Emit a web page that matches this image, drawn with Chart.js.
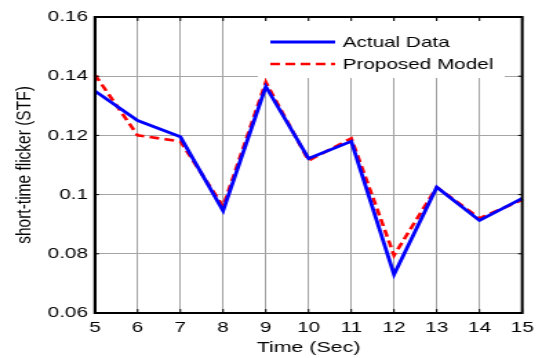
<!DOCTYPE html>
<html>
<head>
<meta charset="utf-8">
<script src="https://cdn.jsdelivr.net/npm/chart.js@4/dist/chart.umd.min.js"></script>
<style>
  html, body { margin: 0; padding: 0; background: #fff; overflow: hidden; }
  /* the figure is drawn narrow and stretched sideways to its final 542px width */
  #wrap { position: absolute; left: 0; top: 0; width: 393px; height: 358px;
          transform: scaleX(1.3791); transform-origin: 0 0; }
</style>
</head>
<body>
<div id="wrap"><canvas id="stfChart"></canvas></div>
<script>
const timeSec = [5, 6, 7, 8, 9, 10, 11, 12, 13, 14, 15];
const actualData = [0.135, 0.125, 0.1195, 0.0945, 0.1365, 0.1122, 0.118, 0.073, 0.1025, 0.0913, 0.0987];
const proposedModel = [0.1405, 0.120, 0.118, 0.096, 0.138, 0.1115, 0.119, 0.0795, 0.1025, 0.092, 0.0982];
const yTicks = [0.06, 0.08, 0.1, 0.12, 0.14, 0.16];

const FONT = '"Liberation Sans", Arial, sans-serif';

// white legend box in the upper right of the plot, plus the boxed frame with inward ticks
const framePlugin = {
  id: "frame",
  afterDatasetsDraw(chart) {
    const ctx = chart.ctx;
    const ds = chart.data.datasets;
    ctx.save();
    ctx.fillStyle = "#fff";
    ctx.fillRect(187, 21, 179, 57);
    ctx.font = "15px " + FONT;
    ctx.textBaseline = "middle";
    ds.forEach((d, i) => {
      const y = 42 + i * 22;
      ctx.strokeStyle = d.borderColor;
      ctx.lineWidth = d.borderWidth;
      ctx.setLineDash(d.borderDash || []);
      ctx.beginPath();
      ctx.moveTo(196, y);
      ctx.lineTo(243, y);
      ctx.stroke();
      ctx.setLineDash([]);
      ctx.fillStyle = "#000";
      ctx.fillText(d.label, 248.5, y + 1);
    });
    ctx.restore();
  },
  afterDraw(chart) {
    const { ctx, chartArea: a, scales } = chart;
    ctx.save();
    ctx.strokeStyle = "#000";
    ctx.lineWidth = 1;
    ctx.beginPath();
    scales.x.ticks.forEach((t, i) => {
      const x = scales.x.getPixelForTick(i);
      ctx.moveTo(x, a.bottom); ctx.lineTo(x, a.bottom - 4);
      ctx.moveTo(x, a.top); ctx.lineTo(x, a.top + 4);
    });
    scales.y.ticks.forEach((t, i) => {
      const y = scales.y.getPixelForTick(i);
      ctx.moveTo(a.left, y); ctx.lineTo(a.left + 3, y);
      ctx.moveTo(a.right, y); ctx.lineTo(a.right - 3, y);
    });
    ctx.stroke();
    ctx.lineWidth = 2;
    ctx.strokeRect(a.left, a.top, a.right - a.left, a.bottom - a.top);
    ctx.restore();
  }
};

new Chart(document.getElementById("stfChart"), {
  type: "line",
  data: {
    labels: timeSec,
    datasets: [
      {
        label: "Actual Data",
        data: actualData,
        borderColor: "#0000ff",
        borderWidth: 2.8,
        pointRadius: 0,
        tension: 0
      },
      {
        label: "Proposed Model",
        data: proposedModel,
        borderColor: "#ff0000",
        borderWidth: 2.6,
        borderDash: [7, 4],
        pointRadius: 0,
        tension: 0
      }
    ]
  },
  options: {
    responsive: true,
    maintainAspectRatio: false,
    animation: false,
    layout: { padding: { left: 0, right: 9.4, top: 17, bottom: 0 } },
    plugins: {
      legend: { display: false },
      tooltip: { enabled: false }
    },
    scales: {
      x: {
        type: "category",
        offset: false,
        grid: { color: "#8a8a8a", lineWidth: 0.8, drawTicks: false },
        border: { color: "#000", width: 2 },
        ticks: { color: "#000", padding: 6, maxRotation: 0, font: { family: FONT, size: 15 } },
        title: { display: true, text: "Time (Sec)", color: "#000", padding: { top: 0, bottom: 1 },
                 font: { family: FONT, size: 15.5 } },
        afterFit(scale) { scale.height = 45; }
      },
      y: {
        min: 0.06,
        max: 0.16,
        afterBuildTicks(scale) { scale.ticks = yTicks.map(v => ({ value: v })); },
        grid: { color: "#a5a5a5", lineWidth: 1, drawTicks: false },
        border: { color: "#000", width: 2 },
        ticks: { color: "#000", padding: 5, font: { family: FONT, size: 15 },
                 callback: v => String(+v.toFixed(2)) },
        title: { display: true, text: "short-time flicker (STF)", color: "#000", padding: { top: 8, bottom: 0 },
                 font: { family: FONT, size: 15.5 } },
        afterFit(scale) { scale.width = 68.8; }
      }
    }
  },
  plugins: [framePlugin]
});
</script>
</body>
</html>
